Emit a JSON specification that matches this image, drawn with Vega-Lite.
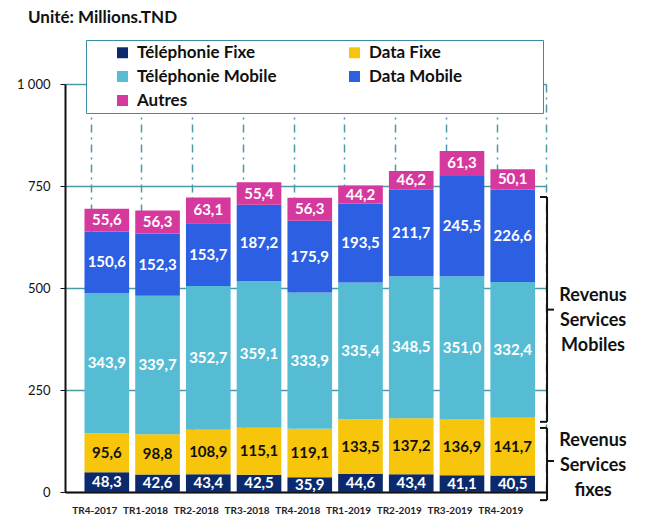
{
  "$schema": "https://vega.github.io/schema/vega-lite/v6.json",
  "width": 481,
  "height": 408,
  "autosize": {"type": "none"},
  "padding": {"left": 65, "top": 84, "right": 105, "bottom": 31},
  "config": {
    "locale": {"number": {"decimal": ",", "thousands": " ", "grouping": [3], "currency": ["", ""]}},
    "view": {"stroke": null},
    "font": "Lato"
  },
  "title": {"text": "Unité: Millions.TND", "anchor": "start", "frame": "group", "fontSize": 17, "fontWeight": "bold", "font": "Lato", "color": "#111", "dx": -37, "offset": 13},
  "resolve": {"axis": {"y": "independent"}},
  "datasets": {
    "main": [
      {"q": "TR4-2017", "s": "Téléphonie Fixe", "o": 1, "v": 48.3},
      {"q": "TR4-2017", "s": "Data Fixe", "o": 2, "v": 95.6},
      {"q": "TR4-2017", "s": "Téléphonie Mobile", "o": 3, "v": 343.9},
      {"q": "TR4-2017", "s": "Data Mobile", "o": 4, "v": 150.6},
      {"q": "TR4-2017", "s": "Autres", "o": 5, "v": 55.6},
      {"q": "TR1-2018", "s": "Téléphonie Fixe", "o": 1, "v": 42.6},
      {"q": "TR1-2018", "s": "Data Fixe", "o": 2, "v": 98.8},
      {"q": "TR1-2018", "s": "Téléphonie Mobile", "o": 3, "v": 339.7},
      {"q": "TR1-2018", "s": "Data Mobile", "o": 4, "v": 152.3},
      {"q": "TR1-2018", "s": "Autres", "o": 5, "v": 56.3},
      {"q": "TR2-2018", "s": "Téléphonie Fixe", "o": 1, "v": 43.4},
      {"q": "TR2-2018", "s": "Data Fixe", "o": 2, "v": 108.9},
      {"q": "TR2-2018", "s": "Téléphonie Mobile", "o": 3, "v": 352.7},
      {"q": "TR2-2018", "s": "Data Mobile", "o": 4, "v": 153.7},
      {"q": "TR2-2018", "s": "Autres", "o": 5, "v": 63.1},
      {"q": "TR3-2018", "s": "Téléphonie Fixe", "o": 1, "v": 42.5},
      {"q": "TR3-2018", "s": "Data Fixe", "o": 2, "v": 115.1},
      {"q": "TR3-2018", "s": "Téléphonie Mobile", "o": 3, "v": 359.1},
      {"q": "TR3-2018", "s": "Data Mobile", "o": 4, "v": 187.2},
      {"q": "TR3-2018", "s": "Autres", "o": 5, "v": 55.4},
      {"q": "TR4-2018", "s": "Téléphonie Fixe", "o": 1, "v": 35.9},
      {"q": "TR4-2018", "s": "Data Fixe", "o": 2, "v": 119.1},
      {"q": "TR4-2018", "s": "Téléphonie Mobile", "o": 3, "v": 333.9},
      {"q": "TR4-2018", "s": "Data Mobile", "o": 4, "v": 175.9},
      {"q": "TR4-2018", "s": "Autres", "o": 5, "v": 56.3},
      {"q": "TR1-2019", "s": "Téléphonie Fixe", "o": 1, "v": 44.6},
      {"q": "TR1-2019", "s": "Data Fixe", "o": 2, "v": 133.5},
      {"q": "TR1-2019", "s": "Téléphonie Mobile", "o": 3, "v": 335.4},
      {"q": "TR1-2019", "s": "Data Mobile", "o": 4, "v": 193.5},
      {"q": "TR1-2019", "s": "Autres", "o": 5, "v": 44.2},
      {"q": "TR2-2019", "s": "Téléphonie Fixe", "o": 1, "v": 43.4},
      {"q": "TR2-2019", "s": "Data Fixe", "o": 2, "v": 137.2},
      {"q": "TR2-2019", "s": "Téléphonie Mobile", "o": 3, "v": 348.5},
      {"q": "TR2-2019", "s": "Data Mobile", "o": 4, "v": 211.7},
      {"q": "TR2-2019", "s": "Autres", "o": 5, "v": 46.2},
      {"q": "TR3-2019", "s": "Téléphonie Fixe", "o": 1, "v": 41.1},
      {"q": "TR3-2019", "s": "Data Fixe", "o": 2, "v": 136.9},
      {"q": "TR3-2019", "s": "Téléphonie Mobile", "o": 3, "v": 351.0},
      {"q": "TR3-2019", "s": "Data Mobile", "o": 4, "v": 245.5},
      {"q": "TR3-2019", "s": "Autres", "o": 5, "v": 61.3},
      {"q": "TR4-2019", "s": "Téléphonie Fixe", "o": 1, "v": 40.5},
      {"q": "TR4-2019", "s": "Data Fixe", "o": 2, "v": 141.7},
      {"q": "TR4-2019", "s": "Téléphonie Mobile", "o": 3, "v": 332.4},
      {"q": "TR4-2019", "s": "Data Mobile", "o": 4, "v": 226.6},
      {"q": "TR4-2019", "s": "Autres", "o": 5, "v": 50.1}
    ],
    "brackets": [
      {"q": "TR4-2019", "lo": 172, "hi": 723},
      {"q": "TR4-2019", "lo": -20, "hi": 157}
    ],
    "hooks": [
      {"q": "TR4-2019", "y": 172},
      {"q": "TR4-2019", "y": 723},
      {"q": "TR4-2019", "y": -20},
      {"q": "TR4-2019", "y": 157}
    ],
    "mids": [
      {"q": "TR4-2019", "y": 447},
      {"q": "TR4-2019", "y": 76}
    ],
    "notes": [
      {"q": "TR4-2019", "y": 480, "t": ["Revenus", "Services", "Mobiles"]},
      {"q": "TR4-2019", "y": 125, "t": ["Revenus", "Services", "fixes"]}
    ]
  },
  "layer": [
    {
      "data": {"name": "main"},
      "mark": {"type": "bar"},
      "encoding": {
        "x": {
          "field": "q", "type": "nominal", "sort": null,
          "scale": {"paddingInner": 0.12, "paddingOuter": 0.3, "align": 0.64},
          "axis": {"title": null, "labelAngle": 0, "labelFontSize": 10, "labelFontWeight": "bold", "labelFont": "Lato", "labelColor": "#222", "labelPadding": 13, "labelOffset": -12, "ticks": false, "domainColor": "#111", "domainWidth": 2, "grid": true, "bandPosition": 0.15, "gridColor": "#4b98a6", "gridWidth": 1.5, "gridDash": [8, 5, 2, 5]}
        },
        "y": {
          "field": "v", "type": "quantitative", "stack": "zero",
          "scale": {"domain": [0, 1000], "nice": false},
          "axis": {"title": null, "values": [0, 250, 500, 750, 1000], "format": ",.0f", "labelFontSize": 13, "labelFont": "Lato", "labelColor": "#111", "labelPadding": 10, "tickSize": 5, "tickColor": "#111", "domainColor": "#111", "domainWidth": 2, "grid": true, "gridColor": "#4b98a6", "gridWidth": 1.5}
        },
        "color": {
          "field": "s", "type": "nominal",
          "scale": {"domain": ["Téléphonie Fixe", "Téléphonie Mobile", "Autres", "Data Fixe", "Data Mobile"], "range": ["#0b2a6e", "#56bcd4", "#d6399d", "#f7c50b", "#2d5fe2"]},
          "legend": {"orient": "none", "legendX": 21, "legendY": -44, "columns": 2, "title": "\u00a0", "titleOrient": "left", "titlePadding": 24, "labelFontSize": 17, "labelFont": "Lato", "labelFontWeight": "bold", "labelColor": "#111", "symbolType": "square", "symbolSize": 120, "symbolStrokeWidth": 0, "rowPadding": 6, "columnPadding": 69, "padding": 4, "strokeColor": "#3a8da0", "fillColor": "white", "labelExpr": "datum.label == 'Data Mobile' ? datum.label + '\u2003\u2003\u2003\u2003\u2003\u2003\u200b' : datum.label", "labelOffset": 6, "labelLimit": 400}
        },
        "order": {"field": "o", "type": "quantitative"}
      }
    },
    {
      "data": {"name": "main"},
      "transform": [
        {"stack": "v", "groupby": ["q"], "sort": [{"field": "o"}], "as": ["v0", "v1"]},
        {"calculate": "(datum.v0 + datum.v1) / 2", "as": "mid"}
      ],
      "mark": {"type": "text", "fontSize": 15, "fontWeight": "bold", "font": "Lato", "baseline": "middle", "align": "center"},
      "encoding": {
        "x": {"field": "q", "type": "nominal", "sort": null},
        "y": {"field": "mid", "type": "quantitative", "axis": {"orient": "right", "title": null, "labels": false, "ticks": false, "grid": false, "domainColor": "#4b98a6", "domainWidth": 1.5, "domainDash": [8, 5, 2, 5]}},
        "text": {"field": "v", "type": "quantitative", "format": ".1f"},
        "color": {"condition": {"test": "datum.s === 'Data Fixe'", "value": "#111"}, "value": "white"}
      }
    },
    {
      "data": {"name": "brackets"},
      "mark": {"type": "rule", "strokeWidth": 2, "color": "#111", "xOffset": 12},
      "encoding": {
        "x": {"field": "q", "type": "nominal", "sort": null, "bandPosition": 1},
        "y": {"field": "lo", "type": "quantitative", "axis": null},
        "y2": {"field": "hi"}
      }
    },
    {
      "data": {"name": "hooks"},
      "mark": {"type": "tick", "orient": "horizontal", "size": 7, "thickness": 2, "color": "#111", "xOffset": 30.8, "opacity": 1},
      "encoding": {
        "x": {"field": "q", "type": "nominal", "sort": null},
        "y": {"field": "y", "type": "quantitative", "axis": null}
      }
    },
    {
      "data": {"name": "mids"},
      "mark": {"type": "tick", "orient": "horizontal", "size": 7, "thickness": 2, "color": "#111", "xOffset": 37.8, "opacity": 1},
      "encoding": {
        "x": {"field": "q", "type": "nominal", "sort": null},
        "y": {"field": "y", "type": "quantitative", "axis": null}
      }
    },
    {
      "data": {"name": "notes"},
      "mark": {"type": "text", "fontSize": 18, "fontWeight": "bold", "font": "Lato", "align": "center", "baseline": "middle", "lineHeight": 25, "dx": 58, "color": "#111"},
      "encoding": {
        "x": {"field": "q", "type": "nominal", "sort": null, "bandPosition": 1},
        "y": {"field": "y", "type": "quantitative", "axis": null},
        "text": {"field": "t"}
      }
    }
  ]
}
